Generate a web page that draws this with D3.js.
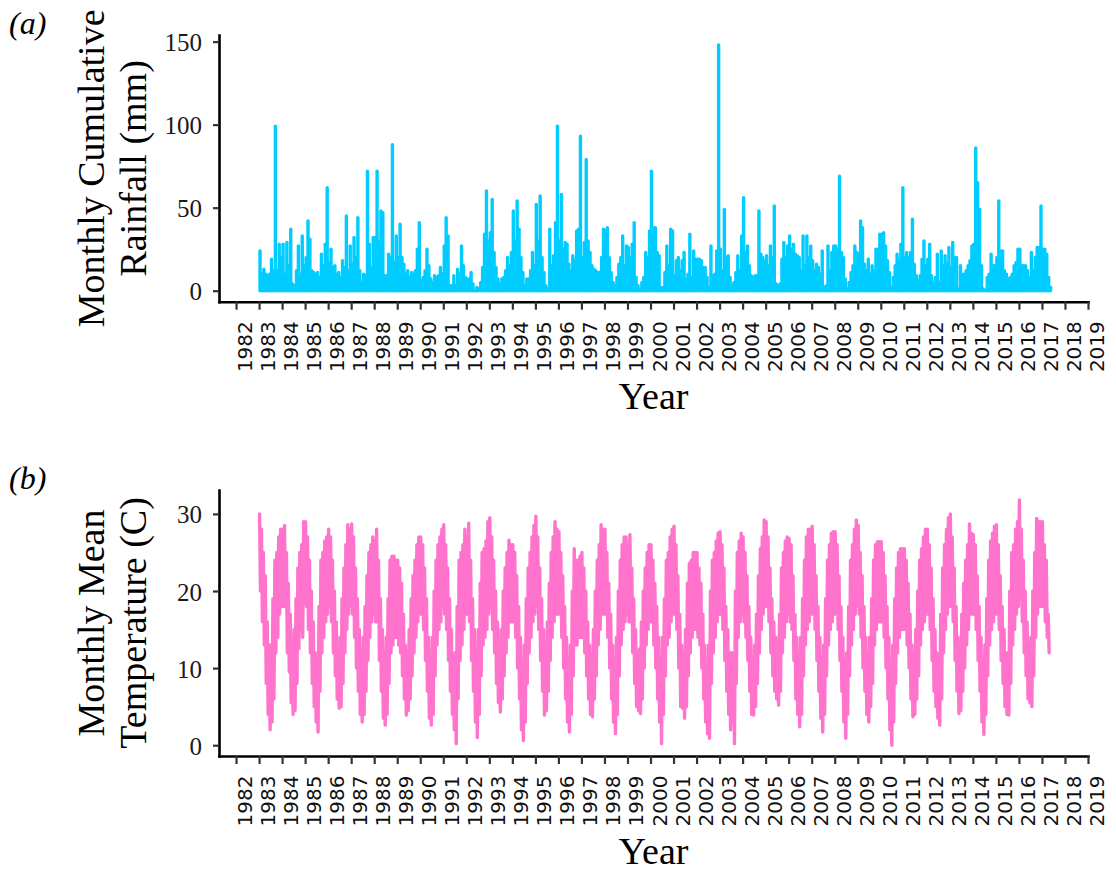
<!DOCTYPE html>
<html><head><meta charset="utf-8">
<script src="https://cdn.jsdelivr.net/npm/d3@7"></script>
<style>body{margin:0;background:#fff}svg{display:block}</style>
</head><body><svg id="chart" width="1116" height="874"></svg>
<script>
const startYear = 1983;
const yearTicks = [1982,1983,1984,1985,1986,1987,1988,1989,1990,1991,1992,1993,1994,1995,1996,1997,1998,1999,2000,2001,2002,2003,2004,2005,2006,2007,2008,2009,2010,2011,2012,2013,2014,2015,2016,2017,2018,2019];
const rainTicks = [0, 50, 100, 150];
const tempTicks = [0, 10, 20, 30];

// Monthly rainfall peaks (mm), one row per year from 1983
const rainfall = [
 [24,10,13,10,9,10,19,12,99,12,28,20],
 [28,10,29,15,37,4,3,12,27,10,33,15],
 [20,42,31,12,11,10,11,8,22,15,28,62],
 [17,25,14,15,10,11,8,18,14,45,12,27],
 [16,32,20,44,12,5,10,9,72,28,14,32],
 [32,72,30,48,47,9,9,22,20,88,17,33],
 [20,40,20,16,10,12,8,11,10,12,25,41],
 [6,8,12,25,15,7,5,9,8,9,14,10],
 [27,44,33,3,3,9,3,13,10,27,15,8],
 [7,7,11,4,0,2,1,5,14,34,60,30],
 [35,55,23,14,7,4,7,8,12,20,15,23],
 [48,30,54,37,20,11,3,7,7,12,23,15],
 [52,30,57,20,11,3,1,37,15,21,41,99],
 [30,58,25,29,28,16,12,21,18,36,37,93],
 [20,29,79,30,23,15,13,12,11,11,20,37],
 [36,38,20,11,5,3,8,16,20,33,15,27],
 [26,20,28,41,8,3,1,5,8,23,20,36],
 [72,38,38,23,21,2,2,11,27,15,37,36],
 [9,18,20,12,18,23,7,10,34,8,24,19],
 [19,19,18,14,14,8,2,27,9,10,24,148],
 [25,12,49,20,21,8,3,5,11,21,12,33],
 [56,23,27,15,9,8,9,9,48,22,20,18],
 [21,15,27,20,51,4,3,4,19,29,20,27],
 [33,25,28,22,21,20,12,33,15,33,20,27],
 [18,12,16,14,10,24,2,3,27,12,23,27],
 [27,25,69,23,20,7,1,5,11,15,27,23],
 [22,42,38,16,12,19,10,15,12,25,25,34],
 [34,35,27,18,11,2,8,15,22,18,28,62],
 [20,23,20,23,43,16,9,6,9,19,30,15],
 [19,28,9,5,8,22,5,24,15,21,16,26],
 [14,29,20,20,1,15,10,10,12,15,18,27],
 [28,86,65,49,15,1,0,8,10,22,15,15],
 [20,54,24,24,12,10,7,8,10,15,17,25],
 [25,15,15,15,12,8,23,12,20,26,26,51],
 [25,25,22,8,2]
];

// Monthly high / low of the daily mean temperature (C), one row per year from 1983
const tempHigh = [
 [30,28,25,22,16,13,13,19,24,25,27,28],
 [28,28.5,25,21,17,13.5,15,19,23,25,26,29],
 [29,27,24,20,16,12,11,18,24,25,26.5,27],
 [28,27,24,20,16,12,14,19,23,26,28.6,28],
 [28.7,27,23,19,15,12,14,18,22,25,26,27],
 [26.5,28,24,19,15,12,14,19,24,24.5,24.5,24],
 [24,23,21,17,13,12,15,19,22,24,26,27],
 [27,26,23,19,14,11,14,20,24,26,27,28],
 [28.6,26,23,19,15,11,12,18,24,25,26,28],
 [27,28.8,24,19,15,11,15,21,25,25.5,26.5,29],
 [29.5,27,24,20,16,12,15,20,23,25,26.6,26],
 [26,25,22,18,14,10,13,19,23,25,27,28.5],
 [29.7,27,23,19,15,12.5,16,21,25,27,29,28],
 [27.7,25,22,18,14,10,13,20,25.5,24,24,24.5],
 [25,23,20,16,13,11,15,20,24,26,28.6,28],
 [28,25,21,17,13,10,14,20,24,26,27,27],
 [26,27.3,23,19,15,12,12.5,16,20,23,25,26],
 [26,24,21,18,14,11,14,19,24,25,27,28],
 [28.4,26,22,17,13,12,15,21,23.6,24,25,25],
 [25,23,21,17,13,10,13,20,24,25,26.5,27.5],
 [27.7,26,23,18,15,12,12,12,20,25,26.5,27.5],
 [27,25,22,18,14,11,13,17,22,25.5,27,29.2],
 [29,27,23,19,16,14,13,17,23,25,26.5,27],
 [26.8,26,22,17,14,12,14,19,24,27,28,28],
 [28.4,26,22,18,14,11,13,19,24,26,27.5,27.7],
 [27.7,26,22,18,14,11,12,18,24,26,28,29.2],
 [28.5,25,22,18,14,12,14,19,24,26,26.4,26.4],
 [26.4,25,22,18,14,10,13,19,23,25,25.5,25.5],
 [25.5,24,21,17,13,12,15,20,24,25.5,27,28],
 [28,26,23,19,15,12,11,17,23,26,28,29.5],
 [30,27,23,18,14,13,17,21,24,26,28.7,27.5],
 [27.3,26,22,18,14,10,13,19,24,26.5,27.5,28.4],
 [28.6,26,22,18,15,12,12,20,25,26,28,29],
 [31.8,28,24,20,16,13,14,20,25,29.4,29,29],
 [29,26,24,17]
];
const tempLow = [
 [20,16,13,8,4,2,3,6,12,14,17,18],
 [18,18,12,9.5,5.5,4,4.5,8,12.5,15,14,18.5],
 [18,15,12,8,5,3,1.7,7,12,14,16,17],
 [18,16,12,9,6,4.8,5,8,12,15,17,18],
 [17,14,10,7,4,3,4,7,11,14,16,17],
 [16,16,11,7,3.5,2.6,4,8,12,13,14,14],
 [13,12,9,6,3.9,4.5,6,9,12,14,16,17],
 [17,15,11,7,3.5,2.6,4,9,13,15,16,18],
 [17,15,11,7,4,2,0.2,6,11,13,15,17],
 [17,16,11,7,3,1,4,9,13,14,15,17],
 [18,15,12,8,5.5,4.3,6,9,12,14,16,16],
 [16,14,10,6,2,0.6,3,8,12,14,16,17],
 [18,15,11,7,3.9,4.5,7,11,14,16,17,17],
 [17,14,10,6,3,1.7,4,9,13,13,14,14],
 [14,12,9,6,4,3.7,6,9,13,15,17,17],
 [17,14,10,6,3,1.5,4,9,13,15,16,17],
 [16,16,12,8,5,4.5,4.1,6,10,13,15,16],
 [16,13,10,6,3,0.2,4,9,13,14,16,17],
 [17,15,10,5,4.8,3.5,5,9,12,14,15,15],
 [14,13,10,6,3,1.5,0.9,8,12,14,16,17],
 [17,15,11,7,4,2,3,0.2,8,14,16,17],
 [16,14,11,7,4,3.9,5,8,12,15,17,18],
 [18,16,12,9,7,6,5.2,7,12,14,16,17],
 [16,15,11,6,4,2.4,4,9,13,15,16,17],
 [17,15,11,7,3.5,1.7,4,9,13,15,16,17],
 [17,15,11,7,3,0.9,4,9,13,15,17,18],
 [17,14,10,7,4,3,5,8,13,15,16,16],
 [16,14,10,6,2,0,3,8,12,14,15,15],
 [15,13,10,6,3.7,4,6,9,13,15,16,17],
 [17,15,11,7,5,3.5,2.6,6,12,15,17,18],
 [18,16,11,7,4.1,4.5,7,10,13,15,17,17],
 [17,15,11,7,3,1.4,4,9,13,15,16,17],
 [17,15,11,8,5,4,3.9,8,13,15,17,18],
 [19,16,12,9,6,5.5,5,9,14,17,18,18],
 [18,16,14,12]
];

const rainColor = "#00CCFF";
const tempColor = "#FF73CD";
const serif = "'Liberation Serif','Times New Roman',serif";
const sans = "'DejaVu Sans',sans-serif";

const rainSeries = [];
rainfall.forEach((row, yi) => row.forEach((v, m) => rainSeries.push({t: startYear + yi + (m + 0.5) / 12, v})));
const tempSeries = [];
tempHigh.forEach((row, yi) => row.forEach((hi, m) => {
  tempSeries.push({t: startYear + yi + (m + 0.25) / 12, v: hi});
  tempSeries.push({t: startYear + yi + (m + 0.75) / 12, v: tempLow[yi][m]});
}));

const svg = d3.select("#chart");
const x = d3.scaleLinear().domain([1981.26, 2019]).range([219, 1088]);

function drawAxes(y, yTickVals, xAxisY, titleLines, panelLabel, labelY, yearBaseline) {
  const gx = svg.append("g").attr("transform", `translate(0,${xAxisY})`)
    .call(d3.axisBottom(x).tickValues(yearTicks).tickFormat(d3.format("d")).tickSize(8).tickSizeOuter(0));
  gx.select(".domain").attr("stroke", "#000").attr("stroke-width", 2.6).attr("stroke-linecap", "square");
  gx.selectAll(".tick line").attr("stroke", "#333").attr("stroke-width", 2.2);
  gx.selectAll(".tick text")
    .attr("transform", "rotate(-90)")
    .attr("x", -19.5).attr("y", 15.5).attr("dy", null)
    .attr("text-anchor", "end")
    .attr("fill", "#111")
    .style("font-family", sans).style("font-size", "20px");

  const gy = svg.append("g").attr("transform", "translate(219,0)")
    .call(d3.axisLeft(y).tickValues(yTickVals).tickSize(6).tickPadding(11).tickSizeOuter(0));
  gy.select(".domain").attr("stroke", "#000").attr("stroke-width", 2.6).attr("stroke-linecap", "square");
  gy.selectAll(".tick line").attr("stroke", "#333").attr("stroke-width", 2.2);
  gy.selectAll(".tick text").attr("fill", "#1a1a1a").attr("dy", "0.36em")
    .style("font-family", serif).style("font-size", "25px");

  const yc = (y.range()[0] + y.range()[1]) / 2;
  const t = svg.append("text")
    .attr("transform", `translate(0,${yc}) rotate(-90)`)
    .attr("text-anchor", "middle")
    .style("font-family", serif).style("font-size", "38px").attr("fill", "#000");
  t.append("tspan").attr("x", 0).attr("y", 104).text(titleLines[0]);
  t.append("tspan").attr("x", 0).attr("y", 146).text(titleLines[1]);

  svg.append("text").attr("x", 653.5).attr("y", yearBaseline).attr("text-anchor", "middle")
    .style("font-family", serif).style("font-size", "38px").text("Year");

  svg.append("text").attr("x", 9).attr("y", labelY)
    .style("font-family", serif).style("font-size", "32px").style("font-style", "italic").text(panelLabel);
}

// Panel (a): rainfall
const yRain = d3.scaleLinear().domain([-6.63, 154]).range([301.7, 35]);
svg.append("g").selectAll("line").data(rainSeries).join("line")
  .attr("x1", d => x(d.t)).attr("x2", d => x(d.t))
  .attr("y1", yRain(0)).attr("y2", d => yRain(d.v))
  .attr("stroke", rainColor).attr("stroke-width", 3.4).attr("stroke-linecap", "round");
drawAxes(yRain, rainTicks, 301.7, ["Monthly Cumulative", "Rainfall (mm)"], "(a)", 34, 409);

// Panel (b): temperature
const yTemp = d3.scaleLinear().domain([-1.4, 33.1]).range([756, 490]);
const tempLine = d3.line().x(d => x(d.t)).y(d => yTemp(d.v));
svg.append("path").datum(tempSeries).attr("d", tempLine)
  .attr("fill", "none").attr("stroke", tempColor).attr("stroke-width", 3.4)
  .attr("stroke-linejoin", "round").attr("stroke-linecap", "round");
drawAxes(yTemp, tempTicks, 756, ["Monthly Mean", "Temperature (C)"], "(b)", 489, 864);
</script></body></html>
